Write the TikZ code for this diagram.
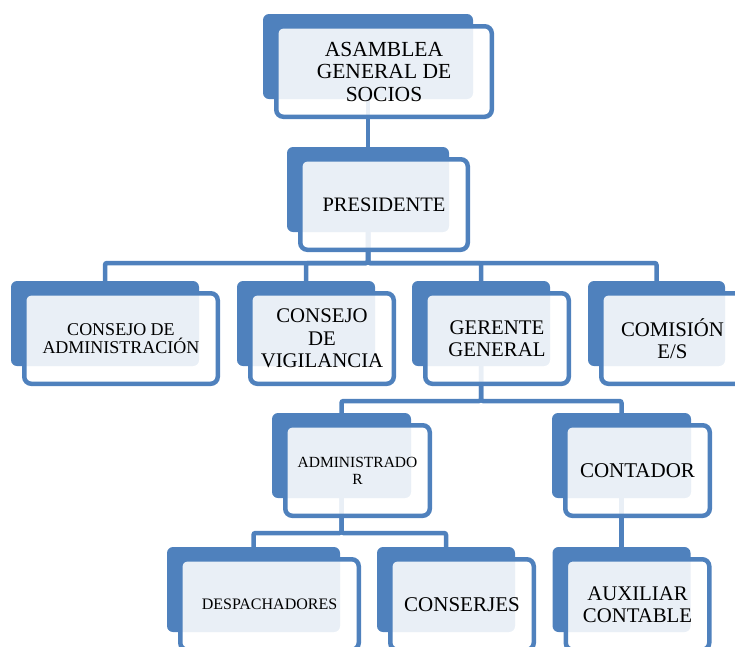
\documentclass[tikz,border=0pt]{standalone}
\usepackage{fontspec}
\setmainfont{Liberation Serif}
\definecolor{orgblue}{HTML}{4F81BD}
\tikzset{
  backbox/.style={fill=orgblue, draw=none, rounded corners=6pt, inner sep=0pt, minimum height=85pt},
  frontbox/.style={draw=orgblue, line width=4.5pt, fill=white, fill opacity=0.88, text opacity=1,
    rounded corners=7pt, inner sep=0pt, align=center, text=black, minimum height=90.5pt},
  conn/.style={draw=orgblue, line width=4.5pt, rounded corners=2pt},
}
\newcommand{\fsz}[2]{\fontsize{#1}{#2}\selectfont}
\begin{document}
\begin{tikzpicture}[x=1pt, y=-1pt]
\useasboundingbox (0,0) rectangle (735,646);
\clip (0,0) rectangle (735,646);
% back boxes
\node[backbox, minimum width=210pt] (asam) at (368,56.5) {};
\node[backbox, minimum width=162pt] (pres) at (368,189.5) {};
\node[backbox, minimum width=188pt] (cadm) at (105,323.5) {};
\node[backbox, minimum width=138pt] (cvig) at (306,323.5) {};
\node[backbox, minimum width=138pt] (ger) at (481,323.5) {};
\node[backbox, minimum width=137pt] (com) at (656.5,323.5) {};
\node[backbox, minimum width=139pt] (adm) at (341.5,455.5) {};
\node[backbox, minimum width=139pt] (cont) at (621.5,455.5) {};
\node[backbox, minimum width=173pt] (desp) at (253.5,589.5) {};
\node[backbox, minimum width=138pt] (cons) at (446,589.5) {};
\node[backbox, minimum width=138pt] (aux) at (621.5,589.5) {};
% bar levels
\coordinate (b1) at (0,263);
\coordinate (b2) at (0,401);
\coordinate (b3) at (0,533);
% connectors
\draw[conn] (asam.south) -- (pres.north);
\draw[conn] (pres.south) |- (cadm.north |- b1) -- (cadm.north);
\draw[conn] (pres.south) |- (cvig.north |- b1) -- (cvig.north);
\draw[conn] (pres.south) |- (ger.north |- b1) -- (ger.north);
\draw[conn] (pres.south) |- (com.north |- b1) -- (com.north);
\draw[conn] (ger.south) |- (adm.north |- b2) -- (adm.north);
\draw[conn] (ger.south) |- (cont.north |- b2) -- (cont.north);
\draw[conn] (adm.south) |- (desp.north |- b3) -- (desp.north);
\draw[conn] (adm.south) |- (cons.north |- b3) -- (cons.north);
\draw[conn] (cont.south) -- (aux.north);
% front boxes with text
\node[frontbox, minimum width=215.5pt, font=\fsz{21.5}{22.5}] (asamT) at ([shift={(16,15)}]asam.center) {ASAMBLEA\\GENERAL DE\\SOCIOS};
\node[frontbox, minimum width=167.5pt, font=\fsz{20.5}{22}] (presT) at ([shift={(16,15)}]pres.center) {PRESIDENTE};
\node[frontbox, minimum width=193.5pt, font=\fsz{18}{18.5}] (cadmT) at ([shift={(16,15)}]cadm.center) {CONSEJO DE\\ADMINISTRACIÓN};
\node[frontbox, minimum width=143.5pt, font=\fsz{20.8}{22.5}] (cvigT) at ([shift={(16,15)}]cvig.center) {CONSEJO\\DE\\VIGILANCIA};
\node[frontbox, minimum width=143.5pt, font=\fsz{20.8}{22}] (gerT) at ([shift={(16,15)}]ger.center) {GERENTE\\GENERAL};
\node[frontbox, minimum width=142.5pt, font=\fsz{20.8}{22}] (comT) at ([shift={(16,15)}]com.center) {COMISIÓN\\E/S};
\node[frontbox, minimum width=144.5pt, font=\fsz{15.5}{17}] (admT) at ([shift={(16,15)}]adm.center) {ADMINISTRADO\\R};
\node[frontbox, minimum width=144.5pt, font=\fsz{21}{22}] (contT) at ([shift={(16,15)}]cont.center) {CONTADOR};
\node[frontbox, minimum width=178.5pt, font=\fsz{16}{17}] (despT) at ([shift={(16,15)}]desp.center) {DESPACHADORES};
\node[frontbox, minimum width=143.5pt, font=\fsz{21}{22}] (consT) at ([shift={(16,15)}]cons.center) {CONSERJES};
\node[frontbox, minimum width=143.5pt, font=\fsz{20.8}{22}] (auxT) at ([shift={(16,15)}]aux.center) {AUXILIAR\\CONTABLE};
\end{tikzpicture}
\end{document}
